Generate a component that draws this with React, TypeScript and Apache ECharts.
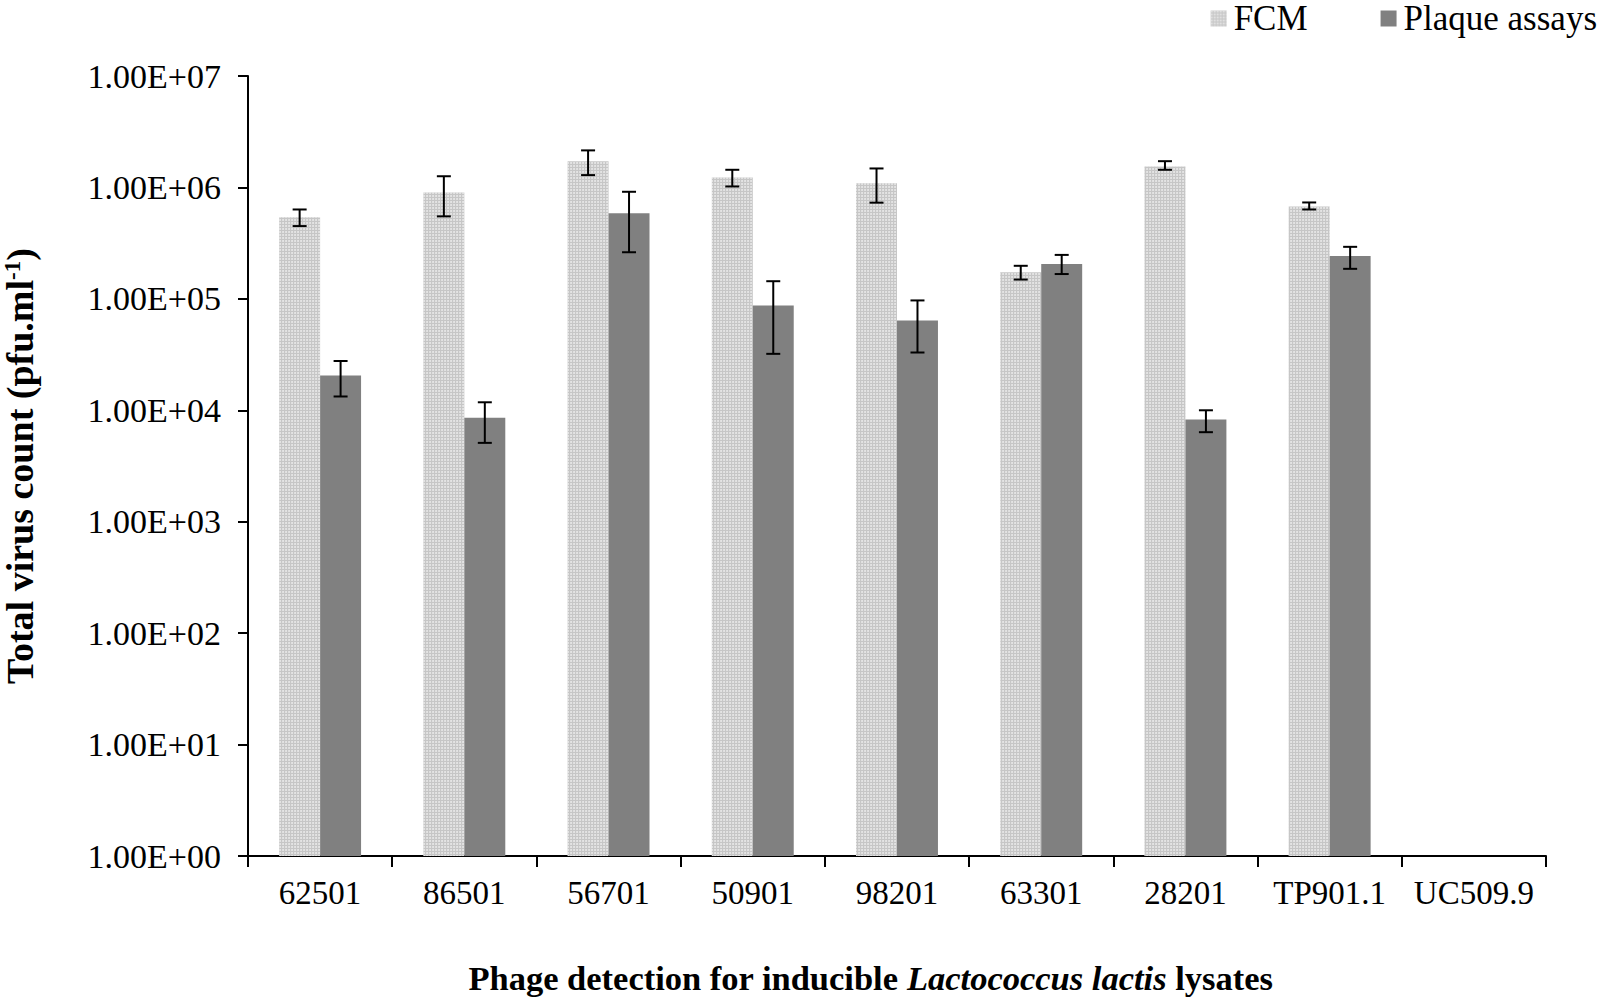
import React, { useEffect, useRef } from "react";
import * as echarts from "echarts";

const categories = ["62501", "86501", "56701", "50901", "98201", "63301", "28201", "TP901.1", "UC509.9"];
const fcmValues: (number | null)[] = [5.4e5, 9.0e5, 1.72e6, 1.23e6, 1.09e6, 1.73e5, 1.54e6, 6.75e5, null];
const fcmLow: (number | null)[] = [4.5e5, 5.5e5, 1.29e6, 1.02e6, 7.3e5, 1.49e5, 1.44e6, 6.34e5, null];
const fcmHigh: (number | null)[] = [6.34e5, 1.26e6, 2.15e6, 1.44e6, 1.48e6, 1.98e5, 1.72e6, 7.33e5, null];
const plaqueValues: (number | null)[] = [2.05e4, 8.55e3, 5.85e5, 8.73e4, 6.4e4, 2.05e5, 8.27e3, 2.43e5, null];
const plaqueLow: (number | null)[] = [1.33e4, 5.1e3, 2.62e5, 3.21e4, 3.3e4, 1.67e5, 6.36e3, 1.86e5, null];
const plaqueHigh: (number | null)[] = [2.77e4, 1.18e4, 9.14e5, 1.44e5, 9.68e4, 2.48e5, 1.0e4, 2.93e5, null];

const FONT = '"Liberation Serif", "Times New Roman", serif';
const BAR_FRAC = 0.284;

function errorData(low: (number | null)[], high: (number | null)[]) {
  const out: any[] = [];
  low.forEach((l, i) => {
    const h = high[i];
    if (l != null && h != null) out.push([i, l, h]);
  });
  return out;
}

function makeErrorRender(sign: number) {
  return (params: any, api: any) => {
    const idx = api.value(0);
    const lo = api.coord([idx, api.value(1)]);
    const hi = api.coord([idx, api.value(2)]);
    const band = api.size([1, 0])[0];
    const x = lo[0] + (sign * band * BAR_FRAC) / 2;
    const cap = 7;
    const style = { stroke: "#000", lineWidth: 2, fill: "none" };
    return {
      type: "group",
      children: [
        { type: "line", shape: { x1: x, y1: lo[1], x2: x, y2: hi[1] }, style },
        { type: "line", shape: { x1: x - cap, y1: lo[1], x2: x + cap, y2: lo[1] }, style },
        { type: "line", shape: { x1: x - cap, y1: hi[1], x2: x + cap, y2: hi[1] }, style },
      ],
    };
  };
}

export default function App() {
  const ref = useRef<HTMLDivElement>(null);
  useEffect(() => {
    document.body.style.margin = "0";
    const chart = echarts.init(ref.current!, null, { renderer: "svg" });
    chart.setOption({
      animation: false,
      backgroundColor: "#fff",
      legend: {
        right: 3,
        top: 1,
        padding: 0,
        itemWidth: 16,
        itemHeight: 16,
        itemGap: 73,
        icon: "rect",
        textStyle: { fontFamily: FONT, fontSize: 35, color: "#000", padding: [0, 0, 0, 2] },
        data: ["FCM", "Plaque assays"],
      },
      grid: {
        left: 248,
        right: 54,
        top: 76,
        bottom: 146,
        containLabel: false,
        outerBoundsMode: "none",
      },
      xAxis: {
        type: "category",
        data: categories,
        axisLine: { show: true, lineStyle: { color: "#000", width: 2 } },
        axisTick: { show: true, length: 11, lineStyle: { color: "#000", width: 2 } },
        axisLabel: { fontFamily: FONT, fontSize: 33, color: "#000", margin: 20, interval: 0 },
        name: "Phage detection for inducible {i|Lactococcus lactis} lysates",
        nameLocation: "middle",
        nameGap: 104,
        nameTextStyle: {
          fontFamily: FONT,
          fontSize: 34.5,
          fontWeight: "bold",
          color: "#000",
          padding: [0, 53, 0, 0],
          rich: {
            i: { fontFamily: FONT, fontSize: 34.5, fontWeight: "bold", fontStyle: "italic", color: "#000" },
          },
        },
      },
      yAxis: {
        type: "log",
        logBase: 10,
        min: 1,
        max: 1e7,
        splitLine: { show: false },
        axisLine: { show: true, lineStyle: { color: "#000", width: 2 } },
        axisTick: { show: true, length: 10, lineStyle: { color: "#000", width: 2 } },
        axisLabel: {
          fontFamily: FONT,
          fontSize: 34,
          color: "#000",
          margin: 27,
          formatter: (v: number) => {
            const e = Math.round(Math.log10(v));
            return "1.00E+" + String(e).padStart(2, "0");
          },
        },
        name: "Total virus count (pfu.ml{sup|-1})",
        nameLocation: "middle",
        nameRotate: 90,
        nameGap: 209,
        nameTextStyle: {
          fontFamily: FONT,
          fontSize: 38,
          fontWeight: "bold",
          color: "#000",
          rich: {
            sup: { fontFamily: FONT, fontSize: 23, fontWeight: "bold", color: "#000", verticalAlign: "top", lineHeight: 23 },
          },
        },
      },
      series: [
        {
          name: "FCM",
          type: "bar",
          data: fcmValues,
          barWidth: BAR_FRAC * 100 + "%",
          barGap: "0%",
          itemStyle: {
            color: "#c6c6c6",
            decal: {
              symbol: "circle",
              symbolSize: 0.9,
              color: "rgba(255,255,255,0.65)",
              dashArrayX: [2, 1],
              dashArrayY: [2, 1],
            },
          },
        },
        {
          name: "Plaque assays",
          type: "bar",
          data: plaqueValues,
          barWidth: BAR_FRAC * 100 + "%",
          barGap: "0%",
          itemStyle: { color: "#808080" },
        },
        {
          type: "custom",
          name: "FCM err",
          data: errorData(fcmLow, fcmHigh),
          renderItem: makeErrorRender(-1),
          encode: { x: 0, y: [1, 2] },
          z: 10,
        },
        {
          type: "custom",
          name: "Plaque err",
          data: errorData(plaqueLow, plaqueHigh),
          renderItem: makeErrorRender(1),
          encode: { x: 0, y: [1, 2] },
          z: 10,
        },
      ],
    });
    return () => chart.dispose();
  }, []);
  return <div ref={ref} style={{ width: 1600, height: 1002 }} />;
}
